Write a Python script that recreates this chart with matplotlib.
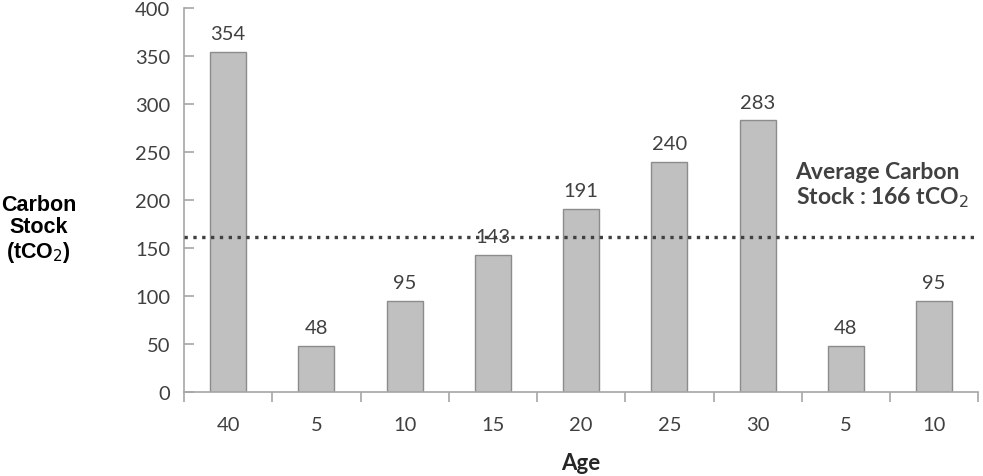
import numpy as np
import matplotlib.pyplot as plt

ages = ['40', '5', '10', '15', '20', '25', '30', '5', '10']
stock = [354, 48, 95, 143, 191, 240, 283, 48, 95]
avg_label = 166
avg_line = 162  # where the dotted line sits in the picture

fig = plt.figure(figsize=(9.83, 4.77), dpi=100)
ax = fig.add_axes([0.1872, 0.176, 0.808, 0.805])

x = np.arange(len(ages))
ax.bar(x, stock, width=0.41, color='#c0c0c0', edgecolor='#8c8c8c', linewidth=1.0, zorder=2)

for xi, v in zip(x, stock):
    ax.annotate(str(v), (xi, v), xytext=(0, 7), textcoords='offset points',
                ha='center', va='bottom', fontsize=14.5, family='Lato', color='#404040')

ax.axhline(avg_line, color='#404040', linestyle=':', linewidth=2.4, zorder=3)
ax.text(6.43, 216, 'Average Carbon\nStock : %d tCO$_2$' % avg_label, fontsize=16.5, family='Lato',
        fontweight='bold', color='#404040', ha='left', va='center', linespacing=1.1)

ax.set_xlim(-0.5, len(ages) - 0.5)
ax.set_ylim(0, 400)
ax.set_yticks(range(0, 401, 50))
ax.set_xticks(x)
ax.set_xticklabels(ages)
ax.set_xticks(np.arange(-0.5, len(ages)), minor=True)

for s in ['top', 'right']:
    ax.spines[s].set_visible(False)
for s in ['left', 'bottom']:
    ax.spines[s].set_color('#a6a6a6')
    ax.spines[s].set_linewidth(1.2)

ax.tick_params(axis='y', direction='in', length=7, width=1.2, color='#a6a6a6',
               labelsize=14.5, labelcolor='#404040', pad=10)
ax.tick_params(axis='x', which='major', length=0, labelsize=14.5, labelcolor='#404040', pad=17)
ax.tick_params(axis='x', which='minor', direction='out', length=7, width=1.2, color='#a6a6a6')
for lab in ax.get_xticklabels() + ax.get_yticklabels():
    lab.set_family('Lato')

fig.text(0.039, 0.518, 'Carbon\nStock\n(tCO$_2$)', ha='center', va='center', fontsize=15.5,
         fontweight='bold', family='Liberation Sans', linespacing=1.1)
ax.set_xlabel('Age', fontsize=16, fontweight='bold', family='Lato', color='#262626', labelpad=14)

fig.savefig('out.png', dpi=100)
